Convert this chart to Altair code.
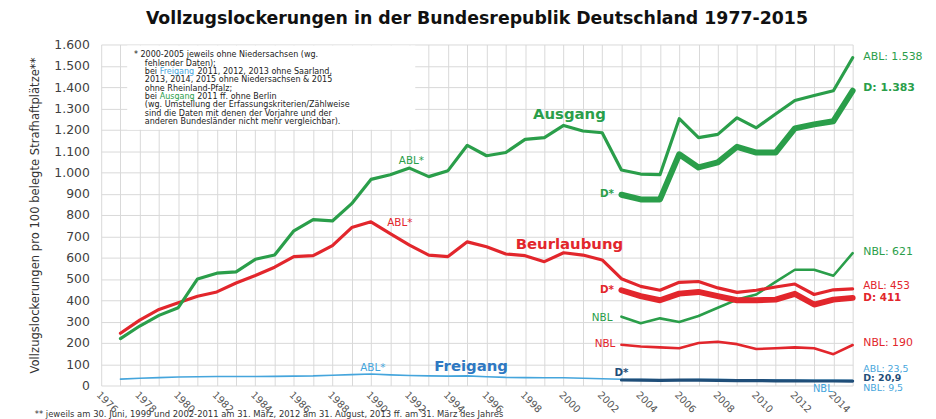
import altair as alt
import pandas as pd

# ---------------- data ----------------
years = list(range(1977, 2016))
years_d = list(range(2003, 2016))

ausgang_abl = [220, 279, 329, 365, 500, 527, 533, 592, 612, 726,
               778, 772, 853, 967, 989, 1020, 980, 1008, 1127, 1078,
               1093, 1155, 1163, 1220, 1194, 1186, 1011, 992, 989, 1252,
               1163, 1178, 1256, 1209, 1274, 1337, 1361, 1383, 1538]
ausgang_d = [895, 873, 873, 1085, 1023, 1047, 1120, 1093, 1093, 1206, 1225, 1240, 1383]
ausgang_nbl = [323, 292, 315, 298, 326, 365, 403, 427, 486, 543, 543, 515, 621]

beur_abl = [245, 307, 357, 388, 419, 439, 481, 516, 555, 605,
            609, 656, 741, 768, 713, 659, 612, 605, 674, 651,
            617, 609, 581, 623, 612, 589, 501, 465, 447, 484,
            488, 458, 437, 447, 462, 476, 427, 449, 453]
beur_d = [447, 419, 400, 431, 439, 419, 400, 400, 403, 430, 380, 403, 411]
beur_nbl = [191, 183, 179, 175, 199, 205, 194, 171, 175, 179, 175, 147, 190]

frei_abl = [30, 34, 37, 40, 41, 42, 42, 42, 43, 44,
            45, 48, 51, 54, 50, 47, 45, 44, 45, 41,
            38, 37, 36, 36, 34, 32, 29, 28, 27, 27,
            28, 28, 27, 26, 26, 25, 25, 24, 23.5]
frei_d = [26, 25, 24, 25, 25, 24, 23, 23, 22, 22, 21, 21, 20.9]

x_ticks = list(range(1976, 2016))
y_ticks = list(range(0, 1700, 100))

# ---------------- style ----------------
GREEN = "#2a9e4a"
RED = "#e2262c"
LBLUE = "#45a5dc"
BLUE = "#2e78c2"
DBLUE = "#1f4e79"
GRID = "#d9d9d9"
FONT = "DejaVu Sans"

x_scale = alt.Scale(domain=[1976, 2015], nice=False, zero=False)
y_scale = alt.Scale(domain=[0, 1600], nice=False, zero=False)

x_axis = alt.Axis(values=x_ticks,
                  labelExpr="datum.value % 2 == 0 ? '' + datum.value : ''",
                  labelAngle=45, labelAlign="left", labelBaseline="top",
                  labelPadding=4, labelFont=FONT, labelFontSize=10,
                  labelColor="#555555", labelOverlap=False, labelFlush=False,
                  ticks=False, domain=False, grid=True, gridColor=GRID,
                  gridWidth=1, title=None)
y_axis = alt.Axis(values=y_ticks,
                  labelExpr="replace(format(datum.value, ','), ',', '.')",
                  labelFont=FONT, labelFontSize=12.5, labelColor="#404040",
                  labelPadding=12, labelOverlap=False, labelFlush=False,
                  ticks=False, domain=False, grid=True, gridColor=GRID,
                  gridWidth=1,
                  title="Vollzugslockerungen pro 100 belegte Strafhaftplätze**",
                  titleFont="Liberation Sans Narrow, DejaVu Sans Condensed, Liberation Sans",
                  titleFontSize=13, titleFontWeight="normal", titleColor="#333333",
                  titleX=-60, titleY=172, titleAngle=-90, titleAlign="center",
                  titleBaseline="bottom")

X = lambda f: alt.X(f, scale=x_scale, axis=x_axis)
Y = lambda f: alt.Y(f, scale=y_scale, axis=y_axis)


def line_layer(xs, vals, color, width):
    df = pd.DataFrame({"Jahr": xs, "Wert": vals})
    return alt.Chart(df).mark_line(color=color, strokeWidth=width,
                                   strokeJoin="round", strokeCap="round").encode(
        x=X("Jahr:Q"), y=Y("Wert:Q"))


def label(xv, yv, txt, color, size=10.5, weight="normal", align="center"):
    df = pd.DataFrame({"Jahr": [xv], "Wert": [yv], "t": [txt]})
    return alt.Chart(df).mark_text(color=color, fontSize=size, fontWeight=weight,
                                   align=align, baseline="middle", font=FONT).encode(
        x=X("Jahr:Q"), y=Y("Wert:Q"), text="t:N")


def note(px, py, txt, color="#222222", size=8.1, align="left", weight="normal", font=FONT):
    df = pd.DataFrame({"t": [txt]})
    return alt.Chart(df).mark_text(color=color, fontSize=size, fontWeight=weight,
                                   align=align, baseline="middle", font=font).encode(
        x=alt.value(px), y=alt.value(py), text="t:N")


layers = []

# white box behind the note
box = pd.DataFrame({"x": [1977.35], "x2": [1992.3], "y": [1595], "y2": [1200]})
layers.append(alt.Chart(box).mark_rect(fill="white", stroke=None).encode(
    x=X("x:Q"), x2="x2:Q", y=Y("y:Q"), y2="y2:Q"))

# lines
layers += [
    line_layer(years, frei_abl, LBLUE, 1.6),
    line_layer(years_d, frei_d, DBLUE, 3.2),
    line_layer(years_d, beur_nbl, RED, 2.6),
    line_layer(years_d, ausgang_nbl, GREEN, 2.6),
    line_layer(years, beur_abl, RED, 3.2),
    line_layer(years, ausgang_abl, GREEN, 3.2),
    line_layer(years_d, beur_d, RED, 6),
    line_layer(years_d, ausgang_d, GREEN, 6),
]

# labels inside plot
layers += [
    label(2000.3, 1273, "Ausgang", GREEN, size=15, weight="bold"),
    label(2000.3, 664, "Beurlaubung", RED, size=15, weight="bold"),
    label(1995.2, 93, "Freigang", BLUE, size=15, weight="bold"),
    label(1992.1, 1051, "ABL*", GREEN),
    label(1991.5, 763, "ABL*", RED),
    label(1990.1, 82, "ABL*", LBLUE),
    label(2002.25, 900, "D*", GREEN, weight="bold"),
    label(2002.25, 447, "D*", RED, weight="bold"),
    label(2002.0, 318, "NBL", GREEN),
    label(2002.15, 194, "NBL", RED),
    label(2003.0, 59, "D*", DBLUE, weight="bold"),
    label(2013.45, -15, "NBL", LBLUE, size=10),
]

# end labels on the right
ENDX = 2015.55
layers += [
    label(ENDX, 1543, "ABL: 1.538", GREEN, size=11, align="left"),
    label(ENDX, 1395, "D: 1.383", GREEN, size=11, weight="bold", align="left"),
    label(ENDX, 628, "NBL: 621", GREEN, size=11, align="left"),
    label(ENDX, 467, "ABL: 453", RED, size=10.5, align="left"),
    label(ENDX, 410, "D: 411", RED, size=10.5, weight="bold", align="left"),
    label(ENDX, 197, "NBL: 190", RED, size=11, align="left"),
    label(ENDX, 79, "ABL: 23,5", LBLUE, size=9.5, align="left"),
    label(ENDX, 34, "D: 20,9", DBLUE, size=9.5, weight="bold", align="left"),
    label(ENDX, -11, "NBL: 9,5", LBLUE, size=9.5, align="left"),
]

# note box text
NX0, NX1, NY0, NDY = 33, 44, 11, 8.4
w_bei = 15.0
w_frei = 53.1
w_aus = 52.8
layers += [
    note(NX0, NY0 + 0 * NDY, "* 2000-2005 jeweils ohne Niedersachsen (wg."),
    note(NX1, NY0 + 1 * NDY, "fehlender Daten);"),
    note(NX1, NY0 + 2 * NDY, "bei"),
    note(NX1 + w_bei, NY0 + 2 * NDY, "Freigang", color=LBLUE),
    note(NX1 + w_frei, NY0 + 2 * NDY, "2011, 2012, 2013 ohne Saarland,"),
    note(NX1, NY0 + 3 * NDY, "2013, 2014, 2015 ohne Niedersachsen & 2015"),
    note(NX1, NY0 + 4 * NDY, "ohne Rheinland-Pfalz;"),
    note(NX1, NY0 + 5 * NDY, "bei"),
    note(NX1 + w_bei, NY0 + 5 * NDY, "Ausgang", color=GREEN),
    note(NX1 + w_aus, NY0 + 5 * NDY, "2011 ff. ohne Berlin"),
    note(NX1, NY0 + 6 * NDY, "(wg. Umstellung der Erfassungskriterien/Zählweise"),
    note(NX1, NY0 + 7 * NDY, "sind die Daten mit denen der Vorjahre und der"),
    note(NX1, NY0 + 8 * NDY, "anderen Bundesländer nicht mehr vergleichbar)."),
]

# footnote
layers.append(note(-67, 372.5,
                   "** jeweils am 30. Juni, 1999 und 2002-2011 am 31. März, 2012 am 31. August, 2013 ff. am 31. März des Jahres",
                   color="#333333", size=8.5))

chart = alt.layer(*layers).properties(
    width=758, height=344,
    padding={"left": 94, "top": 35, "right": 76, "bottom": 32},
    autosize=alt.AutoSizeParams(type="none"),
    background="white",
    title=alt.TitleParams("Vollzugslockerungen in der Bundesrepublik Deutschland 1977-2015",
                          font=FONT, fontSize=17.5, fontWeight="bold", color="#111111",
                          anchor="middle", offset=11),
).configure_view(strokeWidth=0)

chart.save("out.html", embed_options={"renderer": "svg", "actions": False})
